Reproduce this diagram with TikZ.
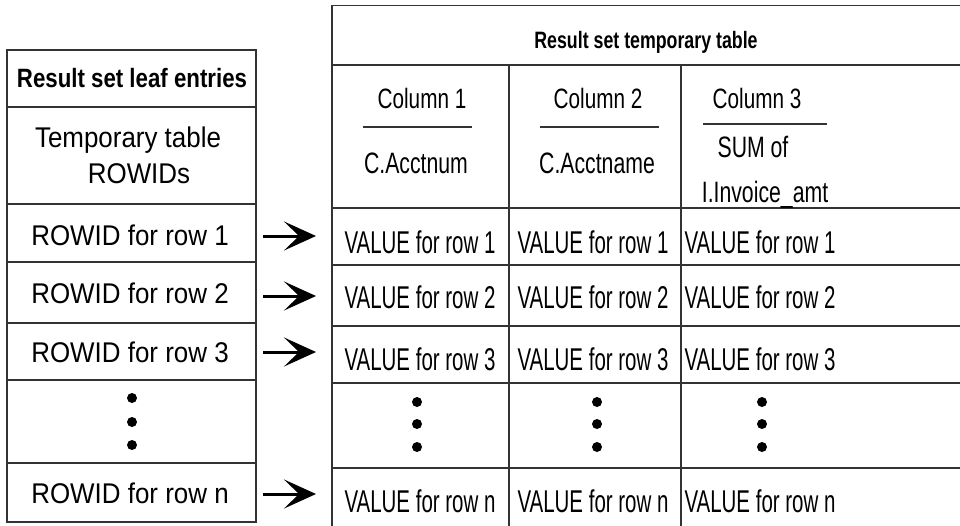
\documentclass[tikz,border=0pt]{standalone}
\usepackage{fontspec}
\setmainfont{Liberation Sans}
\newfontfamily\fLeft[FakeStretch=0.91]{Liberation Sans}
\newfontfamily\fVal[FakeStretch=0.65]{Liberation Sans}
\newfontfamily\fCol[FakeStretch=0.74]{Liberation Sans}
\newfontfamily\fFld[FakeStretch=0.72]{Liberation Sans}
\newfontfamily\fHL[FakeStretch=0.84]{Liberation Sans}
\newfontfamily\fHR[FakeStretch=0.75]{Liberation Sans}
\usetikzlibrary{arrows.meta}
\begin{document}
\begin{tikzpicture}[x=1pt,y=-1pt,
  gridline/.style={draw=black!80, line width=1.6pt},
  txt/.style={anchor=base, inner sep=0pt, text=black},
  lefttxt/.style={txt, font=\fLeft\fontsize{28.5}{30}\selectfont},
  valtxt/.style={txt, font=\fVal\fontsize{31.5}{33}\selectfont},
  coltxt/.style={txt, font=\fCol\fontsize{28}{30}\selectfont},
  fldtxt/.style={txt, font=\fFld\fontsize{29.5}{31}\selectfont},
  headl/.style={txt, font=\fHL\bfseries\fontsize{26.5}{28}\selectfont},
  headr/.style={txt, font=\fHR\bfseries\fontsize{23.7}{25}\selectfont},
  ptr/.style={draw=black, line width=3pt, -{Stealth[length=32pt, width=29pt, inset=15pt]}},
  dot/.style={fill=black}
]
\useasboundingbox (0,0) rectangle (960,525);
\clip (0,0) rectangle (960,525);
\fill[white] (0,0) rectangle (960,525);

% ---------- left table ----------
\draw[gridline] (7,50) rectangle (256,522);
\foreach \yy in {107,204,262,323,380,463}
  \draw[gridline] (7,\yy) -- (256,\yy);

\node[headl] (lhead) at (132,87) {Result set leaf entries};
\node[lefttxt] (ltmp1) at (128,147) {Temporary table};
\node[lefttxt] (ltmp2) at (139,183) {ROWIDs};
\node[lefttxt] (lr1) at (130,245) {ROWID for row 1};
\node[lefttxt] (lr2) at (130,303) {ROWID for row 2};
\node[lefttxt] (lr3) at (130,362) {ROWID for row 3};
\node[lefttxt] (lrn) at (130,503) {ROWID for row n};
\foreach \yy in {398,422,445}
  \fill[dot] (132,\yy) circle (5);

% ---------- right table ----------
\draw[gridline] (990,5.5) -- (332,5.5) -- (332,560);
\foreach \yy in {65,208,265,326,383,468}
  \draw[gridline] (332,\yy) -- (990,\yy);
\draw[gridline] (509,65) -- (509,560);
\draw[gridline] (681,65) -- (681,560);

\node[headr] (rhead) at (646,48) {Result set temporary table};

\node[coltxt] (c1) at (422,108) {Column 1};
\node[coltxt] (c2) at (598,108) {Column 2};
\node[coltxt] (c3) at (757,108) {Column 3};
\draw[gridline, line width=1.4pt] (363,127) -- (472,127);
\draw[gridline, line width=1.4pt] (540,127) -- (659,127);
\draw[gridline, line width=1.4pt] (703,124) -- (827,124);

\node[fldtxt] (f1) at (416,173) {C.Acctnum};
\node[fldtxt] (f2) at (597,173) {C.Acctname};
\node[fldtxt] (f3a) at (753,157) {SUM of};
\node[fldtxt] (f3b) at (765,202) {I.Invoice\_amt};

\foreach \cx/\cn in {420/1,593/2,760/3}{
  \node[valtxt] (v\cn r1) at (\cx,253) {VALUE for row 1};
  \node[valtxt] (v\cn r2) at (\cx,308) {VALUE for row 2};
  \node[valtxt] (v\cn r3) at (\cx,370) {VALUE for row 3};
  \node[valtxt] (v\cn rn) at (\cx,512) {VALUE for row n};
}
\foreach \cx in {417,597,762}
  \foreach \yy in {402,424,447}
    \fill[dot] (\cx,\yy) circle (5);

% ---------- pointers ----------
\coordinate (p1s) at (263,236); \coordinate (p1e) at (316,236);
\coordinate (p2s) at (263,296); \coordinate (p2e) at (316,296);
\coordinate (p3s) at (263,352); \coordinate (p3e) at (316,352);
\coordinate (pns) at (263,494); \coordinate (pne) at (316,494);
\draw[ptr] (p1s) -- (p1e);
\draw[ptr] (p2s) -- (p2e);
\draw[ptr] (p3s) -- (p3e);
\draw[ptr] (pns) -- (pne);
\end{tikzpicture}
\end{document}
